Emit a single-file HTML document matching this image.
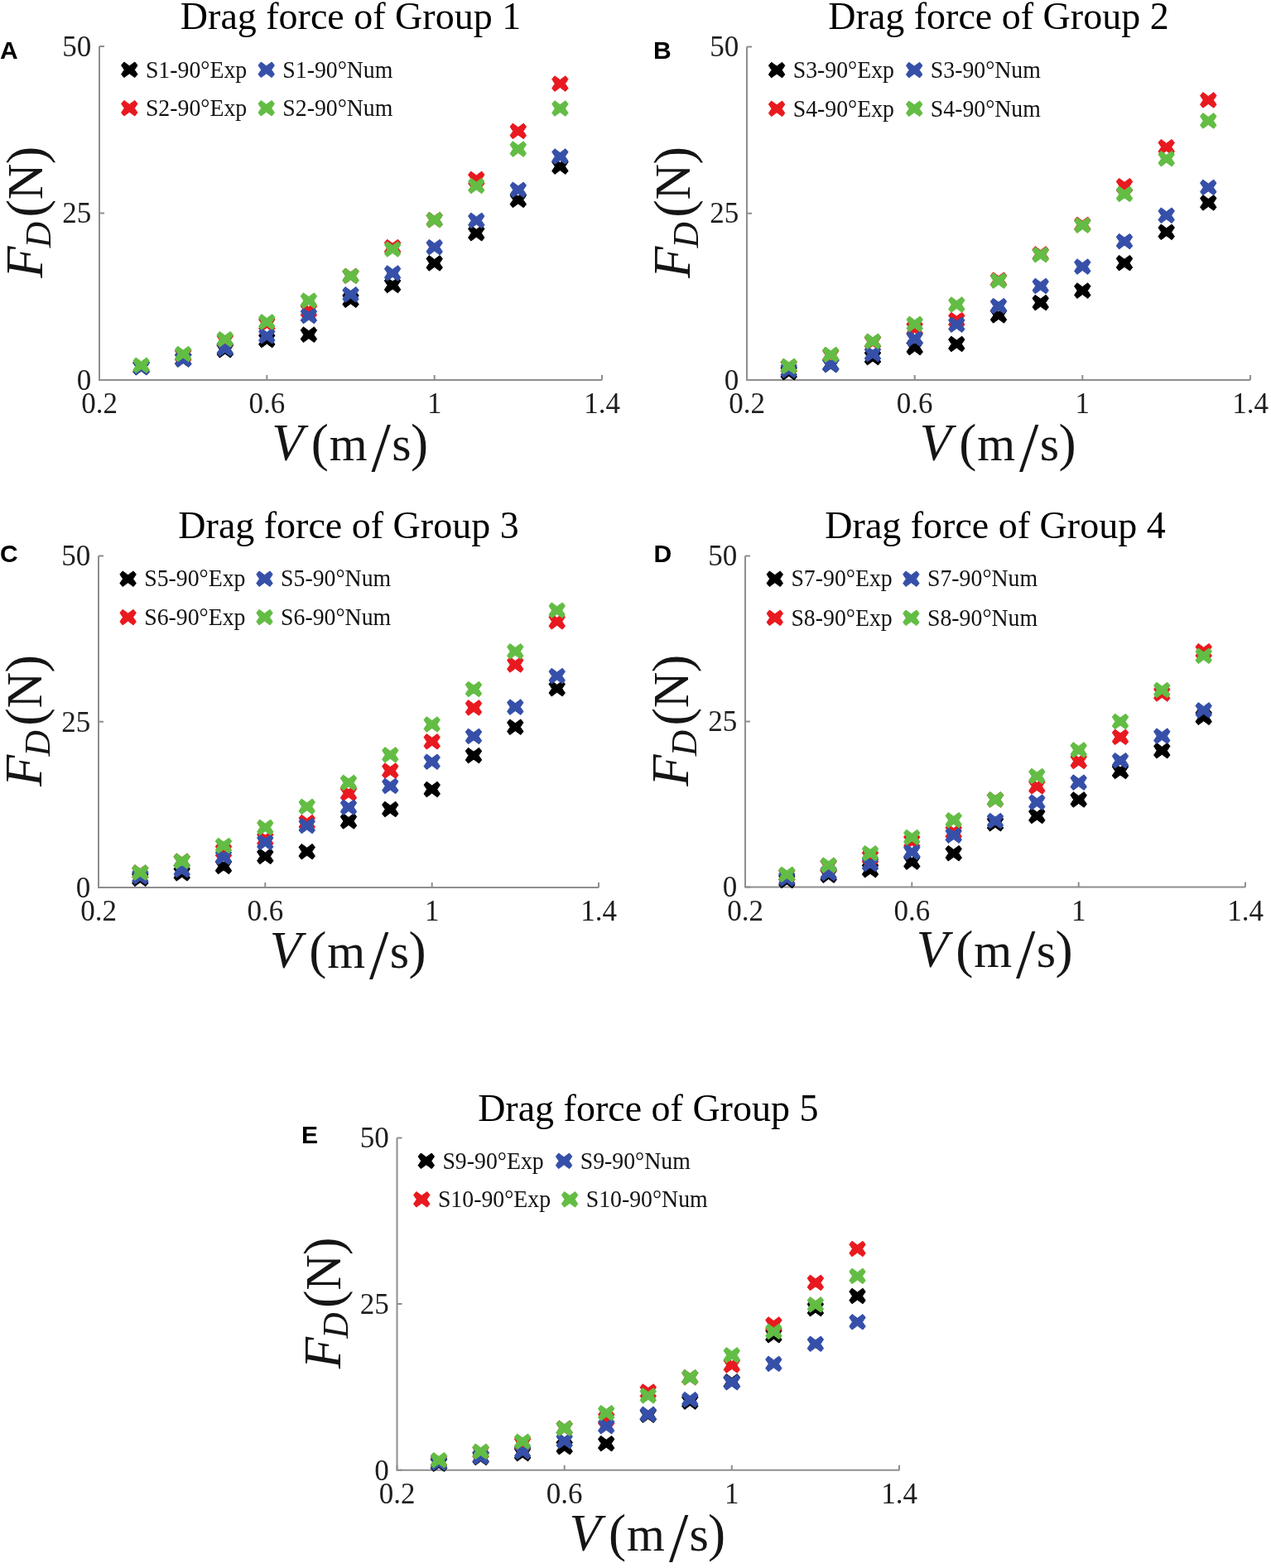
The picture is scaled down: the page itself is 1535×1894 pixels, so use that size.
<!DOCTYPE html>
<html><head><meta charset="utf-8"><title>Drag force</title>
<style>
html,body{margin:0;padding:0;background:#fff;}
svg{display:block;}
text{font-family:"Liberation Serif","Times New Roman",serif;fill:#1e1e1e;}
.lt{font-family:"Liberation Sans",Arial,sans-serif;font-weight:bold;font-size:30px;fill:#000;}
.ti{font-size:46px;text-anchor:middle;fill:#000;}
.tx{font-size:35px;text-anchor:middle;}
.ty{font-size:35px;text-anchor:end;}
.al{fill:#151515;}
.it{font-style:italic;}
.lg{font-size:27.8px;fill:#111;}
.ax{fill:none;stroke:#8e8e8e;stroke-width:2;}
.mk use{stroke-width:1;stroke-linejoin:round;}
</style></head>
<body>
<svg width="1535" height="1894" viewBox="0 0 1535 1894">
<defs><path id="m" d="M-9.7 -5.4L-6.5 -9.3L0 -4.5L6.5 -9.3L9.7 -5.4L6.1 0L9.7 5.4L6.5 9.3L0 4.5L-6.5 9.3L-9.7 5.4L-6.1 0Z"/></defs>
<rect width="1535" height="1894" fill="#fff"/>
<text x="0" y="70.8" class="lt">A</text>
<text x="423.5" y="34.6" class="ti">Drag force of Group 1</text>
<path d="M120 56V459H727" class="ax"/>
<path d="M120.0 459v-6M322.3 459v-6M524.7 459v-6M727.0 459v-6M120 459.0h6M120 257.5h6M120 56.0h6" class="ax"/>
<text x="120.0" y="499.3" class="tx">0.2</text>
<text x="322.3" y="499.3" class="tx">0.6</text>
<text x="524.7" y="499.3" class="tx">1</text>
<text x="727.0" y="499.3" class="tx">1.4</text>
<text x="110.3" y="470.7" class="ty">0</text>
<text x="110.3" y="269.2" class="ty">25</text>
<text x="110.3" y="67.7" class="ty">50</text>
<text class="al"><tspan x="328.3" y="555.7" font-size="62.6" class="it">V</tspan><tspan x="375.8" y="555.7" font-size="63.4">(</tspan><tspan x="397.8" y="555.7" font-size="59">m</tspan><tspan x="448.6" y="568.7" font-size="84">/</tspan><tspan x="473.3" y="555.7" font-size="60">s</tspan><tspan x="495.9" y="555.7" font-size="63.4">)</tspan></text>
<text transform="translate(51.3 257.5) rotate(-90)" class="al"><tspan x="-78.2" y="0" font-size="62.5" class="it">F</tspan><tspan x="-41.7" y="9.3" font-size="43.4" class="it">D</tspan><tspan x="-4.9" y="1.6" font-size="64.9">(</tspan><tspan x="16.3" y="0" font-size="60.5">N</tspan><tspan x="59.2" y="1.6" font-size="64.9">)</tspan></text>
<g class="mk"><use href="#m" x="156.3" y="84.3" fill="#000000" stroke="#000000"/></g>
<text transform="translate(175.9 93.5) scale(1 1.08)" class="lg">S1-90°Exp</text>
<g class="mk"><use href="#m" x="321.7" y="84.3" fill="#3650a9" stroke="#3650a9"/></g>
<text transform="translate(341.3 93.5) scale(1 1.08)" class="lg">S1-90°Num</text>
<g class="mk"><use href="#m" x="156.3" y="130.7" fill="#e8191f" stroke="#e8191f"/></g>
<text transform="translate(175.9 139.9) scale(1 1.08)" class="lg">S2-90°Exp</text>
<g class="mk"><use href="#m" x="321.7" y="130.7" fill="#63bd44" stroke="#63bd44"/></g>
<text transform="translate(341.3 139.9) scale(1 1.08)" class="lg">S2-90°Num</text>
<g class="mk">
<use href="#m" x="170.6" y="443.7" fill="#000000" stroke="#000000"/>
<use href="#m" x="221.2" y="434.0" fill="#000000" stroke="#000000"/>
<use href="#m" x="271.8" y="422.7" fill="#000000" stroke="#000000"/>
<use href="#m" x="322.3" y="410.6" fill="#000000" stroke="#000000"/>
<use href="#m" x="372.9" y="404.2" fill="#000000" stroke="#000000"/>
<use href="#m" x="423.5" y="362.3" fill="#000000" stroke="#000000"/>
<use href="#m" x="474.1" y="344.5" fill="#000000" stroke="#000000"/>
<use href="#m" x="524.7" y="317.9" fill="#000000" stroke="#000000"/>
<use href="#m" x="575.3" y="281.7" fill="#000000" stroke="#000000"/>
<use href="#m" x="625.8" y="241.4" fill="#000000" stroke="#000000"/>
<use href="#m" x="676.4" y="201.1" fill="#000000" stroke="#000000"/>
<use href="#m" x="170.6" y="442.9" fill="#e8191f" stroke="#e8191f"/>
<use href="#m" x="221.2" y="429.2" fill="#e8191f" stroke="#e8191f"/>
<use href="#m" x="271.8" y="411.4" fill="#e8191f" stroke="#e8191f"/>
<use href="#m" x="322.3" y="391.3" fill="#e8191f" stroke="#e8191f"/>
<use href="#m" x="372.9" y="375.2" fill="#e8191f" stroke="#e8191f"/>
<use href="#m" x="423.5" y="333.3" fill="#e8191f" stroke="#e8191f"/>
<use href="#m" x="474.1" y="298.6" fill="#e8191f" stroke="#e8191f"/>
<use href="#m" x="524.7" y="265.6" fill="#e8191f" stroke="#e8191f"/>
<use href="#m" x="575.3" y="216.4" fill="#e8191f" stroke="#e8191f"/>
<use href="#m" x="625.8" y="158.4" fill="#e8191f" stroke="#e8191f"/>
<use href="#m" x="676.4" y="101.1" fill="#e8191f" stroke="#e8191f"/>
<use href="#m" x="170.6" y="443.7" fill="#3650a9" stroke="#3650a9"/>
<use href="#m" x="221.2" y="434.0" fill="#3650a9" stroke="#3650a9"/>
<use href="#m" x="271.8" y="421.1" fill="#3650a9" stroke="#3650a9"/>
<use href="#m" x="322.3" y="405.8" fill="#3650a9" stroke="#3650a9"/>
<use href="#m" x="372.9" y="381.6" fill="#3650a9" stroke="#3650a9"/>
<use href="#m" x="423.5" y="355.8" fill="#3650a9" stroke="#3650a9"/>
<use href="#m" x="474.1" y="330.0" fill="#3650a9" stroke="#3650a9"/>
<use href="#m" x="524.7" y="298.6" fill="#3650a9" stroke="#3650a9"/>
<use href="#m" x="575.3" y="266.4" fill="#3650a9" stroke="#3650a9"/>
<use href="#m" x="625.8" y="229.3" fill="#3650a9" stroke="#3650a9"/>
<use href="#m" x="676.4" y="189.0" fill="#3650a9" stroke="#3650a9"/>
<use href="#m" x="170.6" y="441.3" fill="#63bd44" stroke="#63bd44"/>
<use href="#m" x="221.2" y="427.6" fill="#63bd44" stroke="#63bd44"/>
<use href="#m" x="271.8" y="409.8" fill="#63bd44" stroke="#63bd44"/>
<use href="#m" x="322.3" y="388.9" fill="#63bd44" stroke="#63bd44"/>
<use href="#m" x="372.9" y="363.1" fill="#63bd44" stroke="#63bd44"/>
<use href="#m" x="423.5" y="333.3" fill="#63bd44" stroke="#63bd44"/>
<use href="#m" x="474.1" y="301.0" fill="#63bd44" stroke="#63bd44"/>
<use href="#m" x="524.7" y="265.6" fill="#63bd44" stroke="#63bd44"/>
<use href="#m" x="575.3" y="224.5" fill="#63bd44" stroke="#63bd44"/>
<use href="#m" x="625.8" y="180.1" fill="#63bd44" stroke="#63bd44"/>
<use href="#m" x="676.4" y="131.0" fill="#63bd44" stroke="#63bd44"/>
</g>
<text x="789" y="70.8" class="lt">B</text>
<text x="1206.0" y="35" class="ti">Drag force of Group 2</text>
<path d="M902 56.5V459H1510" class="ax"/>
<path d="M902.0 459v-6M1104.7 459v-6M1307.3 459v-6M1510.0 459v-6M902 459.0h6M902 257.8h6M902 56.5h6" class="ax"/>
<text x="902.0" y="499.3" class="tx">0.2</text>
<text x="1104.7" y="499.3" class="tx">0.6</text>
<text x="1307.3" y="499.3" class="tx">1</text>
<text x="1510.0" y="499.3" class="tx">1.4</text>
<text x="892.3" y="470.7" class="ty">0</text>
<text x="892.3" y="269.4" class="ty">25</text>
<text x="892.3" y="68.2" class="ty">50</text>
<text class="al"><tspan x="1110.8" y="555.7" font-size="62.6" class="it">V</tspan><tspan x="1158.3" y="555.7" font-size="63.4">(</tspan><tspan x="1180.3" y="555.7" font-size="59">m</tspan><tspan x="1231.1" y="568.7" font-size="84">/</tspan><tspan x="1255.8" y="555.7" font-size="60">s</tspan><tspan x="1278.4" y="555.7" font-size="63.4">)</tspan></text>
<text transform="translate(833.3 257.8) rotate(-90)" class="al"><tspan x="-78.2" y="0" font-size="62.5" class="it">F</tspan><tspan x="-41.7" y="9.3" font-size="43.4" class="it">D</tspan><tspan x="-4.9" y="1.6" font-size="64.9">(</tspan><tspan x="16.3" y="0" font-size="60.5">N</tspan><tspan x="59.2" y="1.6" font-size="64.9">)</tspan></text>
<g class="mk"><use href="#m" x="938.1" y="84.6" fill="#000000" stroke="#000000"/></g>
<text transform="translate(957.7 93.8) scale(1 1.08)" class="lg">S3-90°Exp</text>
<g class="mk"><use href="#m" x="1104.2" y="84.6" fill="#3650a9" stroke="#3650a9"/></g>
<text transform="translate(1123.8 93.8) scale(1 1.08)" class="lg">S3-90°Num</text>
<g class="mk"><use href="#m" x="938.1" y="131.3" fill="#e8191f" stroke="#e8191f"/></g>
<text transform="translate(957.7 140.5) scale(1 1.08)" class="lg">S4-90°Exp</text>
<g class="mk"><use href="#m" x="1104.2" y="131.3" fill="#63bd44" stroke="#63bd44"/></g>
<text transform="translate(1123.8 140.5) scale(1 1.08)" class="lg">S4-90°Num</text>
<g class="mk">
<use href="#m" x="952.7" y="449.7" fill="#000000" stroke="#000000"/>
<use href="#m" x="1003.3" y="440.5" fill="#000000" stroke="#000000"/>
<use href="#m" x="1054.0" y="431.6" fill="#000000" stroke="#000000"/>
<use href="#m" x="1104.7" y="419.6" fill="#000000" stroke="#000000"/>
<use href="#m" x="1155.3" y="415.5" fill="#000000" stroke="#000000"/>
<use href="#m" x="1206.0" y="380.9" fill="#000000" stroke="#000000"/>
<use href="#m" x="1256.7" y="365.6" fill="#000000" stroke="#000000"/>
<use href="#m" x="1307.3" y="351.1" fill="#000000" stroke="#000000"/>
<use href="#m" x="1358.0" y="317.7" fill="#000000" stroke="#000000"/>
<use href="#m" x="1408.7" y="280.3" fill="#000000" stroke="#000000"/>
<use href="#m" x="1459.3" y="244.9" fill="#000000" stroke="#000000"/>
<use href="#m" x="952.7" y="442.9" fill="#e8191f" stroke="#e8191f"/>
<use href="#m" x="1003.3" y="429.2" fill="#e8191f" stroke="#e8191f"/>
<use href="#m" x="1054.0" y="413.1" fill="#e8191f" stroke="#e8191f"/>
<use href="#m" x="1104.7" y="397.0" fill="#e8191f" stroke="#e8191f"/>
<use href="#m" x="1155.3" y="386.6" fill="#e8191f" stroke="#e8191f"/>
<use href="#m" x="1206.0" y="338.2" fill="#e8191f" stroke="#e8191f"/>
<use href="#m" x="1256.7" y="306.9" fill="#e8191f" stroke="#e8191f"/>
<use href="#m" x="1307.3" y="271.4" fill="#e8191f" stroke="#e8191f"/>
<use href="#m" x="1358.0" y="224.7" fill="#e8191f" stroke="#e8191f"/>
<use href="#m" x="1408.7" y="177.7" fill="#e8191f" stroke="#e8191f"/>
<use href="#m" x="1459.3" y="120.9" fill="#e8191f" stroke="#e8191f"/>
<use href="#m" x="952.7" y="447.3" fill="#3650a9" stroke="#3650a9"/>
<use href="#m" x="1003.3" y="440.7" fill="#3650a9" stroke="#3650a9"/>
<use href="#m" x="1054.0" y="427.6" fill="#3650a9" stroke="#3650a9"/>
<use href="#m" x="1104.7" y="409.1" fill="#3650a9" stroke="#3650a9"/>
<use href="#m" x="1155.3" y="392.2" fill="#3650a9" stroke="#3650a9"/>
<use href="#m" x="1206.0" y="369.6" fill="#3650a9" stroke="#3650a9"/>
<use href="#m" x="1256.7" y="345.5" fill="#3650a9" stroke="#3650a9"/>
<use href="#m" x="1307.3" y="322.1" fill="#3650a9" stroke="#3650a9"/>
<use href="#m" x="1358.0" y="291.6" fill="#3650a9" stroke="#3650a9"/>
<use href="#m" x="1408.7" y="260.2" fill="#3650a9" stroke="#3650a9"/>
<use href="#m" x="1459.3" y="226.4" fill="#3650a9" stroke="#3650a9"/>
<use href="#m" x="952.7" y="442.4" fill="#63bd44" stroke="#63bd44"/>
<use href="#m" x="1003.3" y="428.4" fill="#63bd44" stroke="#63bd44"/>
<use href="#m" x="1054.0" y="412.3" fill="#63bd44" stroke="#63bd44"/>
<use href="#m" x="1104.7" y="391.4" fill="#63bd44" stroke="#63bd44"/>
<use href="#m" x="1155.3" y="368.0" fill="#63bd44" stroke="#63bd44"/>
<use href="#m" x="1206.0" y="339.1" fill="#63bd44" stroke="#63bd44"/>
<use href="#m" x="1256.7" y="307.7" fill="#63bd44" stroke="#63bd44"/>
<use href="#m" x="1307.3" y="272.2" fill="#63bd44" stroke="#63bd44"/>
<use href="#m" x="1358.0" y="234.4" fill="#63bd44" stroke="#63bd44"/>
<use href="#m" x="1408.7" y="191.7" fill="#63bd44" stroke="#63bd44"/>
<use href="#m" x="1459.3" y="145.9" fill="#63bd44" stroke="#63bd44"/>
</g>
<text x="0" y="679.3" class="lt">C</text>
<text x="421.0" y="650.2" class="ti">Drag force of Group 3</text>
<path d="M119 671.5V1072H723" class="ax"/>
<path d="M119.0 1072v-6M320.3 1072v-6M521.7 1072v-6M723.0 1072v-6M119 1072.0h6M119 871.8h6M119 671.5h6" class="ax"/>
<text x="119.0" y="1112.3" class="tx">0.2</text>
<text x="320.3" y="1112.3" class="tx">0.6</text>
<text x="521.7" y="1112.3" class="tx">1</text>
<text x="723.0" y="1112.3" class="tx">1.4</text>
<text x="109.3" y="1083.7" class="ty">0</text>
<text x="109.3" y="883.5" class="ty">25</text>
<text x="109.3" y="683.2" class="ty">50</text>
<text class="al"><tspan x="325.8" y="1168.7" font-size="62.6" class="it">V</tspan><tspan x="373.3" y="1168.7" font-size="63.4">(</tspan><tspan x="395.3" y="1168.7" font-size="59">m</tspan><tspan x="446.1" y="1181.7" font-size="84">/</tspan><tspan x="470.8" y="1168.7" font-size="60">s</tspan><tspan x="493.4" y="1168.7" font-size="63.4">)</tspan></text>
<text transform="translate(50.3 871.8) rotate(-90)" class="al"><tspan x="-78.2" y="0" font-size="62.5" class="it">F</tspan><tspan x="-41.7" y="9.3" font-size="43.4" class="it">D</tspan><tspan x="-4.9" y="1.6" font-size="64.9">(</tspan><tspan x="16.3" y="0" font-size="60.5">N</tspan><tspan x="59.2" y="1.6" font-size="64.9">)</tspan></text>
<g class="mk"><use href="#m" x="154.6" y="699.2" fill="#000000" stroke="#000000"/></g>
<text transform="translate(174.2 708.4) scale(1 1.08)" class="lg">S5-90°Exp</text>
<g class="mk"><use href="#m" x="319.5" y="699.2" fill="#3650a9" stroke="#3650a9"/></g>
<text transform="translate(339.1 708.4) scale(1 1.08)" class="lg">S5-90°Num</text>
<g class="mk"><use href="#m" x="154.6" y="745.6" fill="#e8191f" stroke="#e8191f"/></g>
<text transform="translate(174.2 754.8) scale(1 1.08)" class="lg">S6-90°Exp</text>
<g class="mk"><use href="#m" x="319.5" y="745.6" fill="#63bd44" stroke="#63bd44"/></g>
<text transform="translate(339.1 754.8) scale(1 1.08)" class="lg">S6-90°Num</text>
<g class="mk">
<use href="#m" x="169.3" y="1061.3" fill="#000000" stroke="#000000"/>
<use href="#m" x="219.7" y="1054.8" fill="#000000" stroke="#000000"/>
<use href="#m" x="270.0" y="1046.4" fill="#000000" stroke="#000000"/>
<use href="#m" x="320.3" y="1034.4" fill="#000000" stroke="#000000"/>
<use href="#m" x="370.7" y="1028.7" fill="#000000" stroke="#000000"/>
<use href="#m" x="421.0" y="991.9" fill="#000000" stroke="#000000"/>
<use href="#m" x="471.3" y="977.5" fill="#000000" stroke="#000000"/>
<use href="#m" x="521.7" y="953.5" fill="#000000" stroke="#000000"/>
<use href="#m" x="572.0" y="912.6" fill="#000000" stroke="#000000"/>
<use href="#m" x="622.3" y="878.2" fill="#000000" stroke="#000000"/>
<use href="#m" x="672.7" y="831.7" fill="#000000" stroke="#000000"/>
<use href="#m" x="169.3" y="1054.0" fill="#e8191f" stroke="#e8191f"/>
<use href="#m" x="219.7" y="1040.2" fill="#e8191f" stroke="#e8191f"/>
<use href="#m" x="270.0" y="1027.9" fill="#e8191f" stroke="#e8191f"/>
<use href="#m" x="320.3" y="1013.5" fill="#e8191f" stroke="#e8191f"/>
<use href="#m" x="370.7" y="993.5" fill="#e8191f" stroke="#e8191f"/>
<use href="#m" x="421.0" y="958.3" fill="#e8191f" stroke="#e8191f"/>
<use href="#m" x="471.3" y="931.0" fill="#e8191f" stroke="#e8191f"/>
<use href="#m" x="521.7" y="895.8" fill="#e8191f" stroke="#e8191f"/>
<use href="#m" x="572.0" y="854.9" fill="#e8191f" stroke="#e8191f"/>
<use href="#m" x="622.3" y="802.9" fill="#e8191f" stroke="#e8191f"/>
<use href="#m" x="672.7" y="750.8" fill="#e8191f" stroke="#e8191f"/>
<use href="#m" x="169.3" y="1058.9" fill="#3650a9" stroke="#3650a9"/>
<use href="#m" x="219.7" y="1050.7" fill="#3650a9" stroke="#3650a9"/>
<use href="#m" x="270.0" y="1035.2" fill="#3650a9" stroke="#3650a9"/>
<use href="#m" x="320.3" y="1017.5" fill="#3650a9" stroke="#3650a9"/>
<use href="#m" x="370.7" y="997.5" fill="#3650a9" stroke="#3650a9"/>
<use href="#m" x="421.0" y="975.1" fill="#3650a9" stroke="#3650a9"/>
<use href="#m" x="471.3" y="949.4" fill="#3650a9" stroke="#3650a9"/>
<use href="#m" x="521.7" y="920.2" fill="#3650a9" stroke="#3650a9"/>
<use href="#m" x="572.0" y="889.4" fill="#3650a9" stroke="#3650a9"/>
<use href="#m" x="622.3" y="854.1" fill="#3650a9" stroke="#3650a9"/>
<use href="#m" x="672.7" y="816.5" fill="#3650a9" stroke="#3650a9"/>
<use href="#m" x="169.3" y="1054.0" fill="#63bd44" stroke="#63bd44"/>
<use href="#m" x="219.7" y="1040.2" fill="#63bd44" stroke="#63bd44"/>
<use href="#m" x="270.0" y="1021.5" fill="#63bd44" stroke="#63bd44"/>
<use href="#m" x="320.3" y="999.4" fill="#63bd44" stroke="#63bd44"/>
<use href="#m" x="370.7" y="974.3" fill="#63bd44" stroke="#63bd44"/>
<use href="#m" x="421.0" y="945.4" fill="#63bd44" stroke="#63bd44"/>
<use href="#m" x="471.3" y="911.8" fill="#63bd44" stroke="#63bd44"/>
<use href="#m" x="521.7" y="875.0" fill="#63bd44" stroke="#63bd44"/>
<use href="#m" x="572.0" y="832.5" fill="#63bd44" stroke="#63bd44"/>
<use href="#m" x="622.3" y="786.8" fill="#63bd44" stroke="#63bd44"/>
<use href="#m" x="672.7" y="737.2" fill="#63bd44" stroke="#63bd44"/>
</g>
<text x="789.5" y="679.3" class="lt">D</text>
<text x="1202.0" y="650.2" class="ti">Drag force of Group 4</text>
<path d="M900 671.5V1071.5H1504" class="ax"/>
<path d="M900.0 1071.5v-6M1101.3 1071.5v-6M1302.7 1071.5v-6M1504.0 1071.5v-6M900 1071.5h6M900 871.5h6M900 671.5h6" class="ax"/>
<text x="900.0" y="1111.8" class="tx">0.2</text>
<text x="1101.3" y="1111.8" class="tx">0.6</text>
<text x="1302.7" y="1111.8" class="tx">1</text>
<text x="1504.0" y="1111.8" class="tx">1.4</text>
<text x="890.3" y="1083.2" class="ty">0</text>
<text x="890.3" y="883.2" class="ty">25</text>
<text x="890.3" y="683.2" class="ty">50</text>
<text class="al"><tspan x="1106.8" y="1168.2" font-size="62.6" class="it">V</tspan><tspan x="1154.3" y="1168.2" font-size="63.4">(</tspan><tspan x="1176.3" y="1168.2" font-size="59">m</tspan><tspan x="1227.1" y="1181.2" font-size="84">/</tspan><tspan x="1251.8" y="1168.2" font-size="60">s</tspan><tspan x="1274.4" y="1168.2" font-size="63.4">)</tspan></text>
<text transform="translate(831.3 871.5) rotate(-90)" class="al"><tspan x="-78.2" y="0" font-size="62.5" class="it">F</tspan><tspan x="-41.7" y="9.3" font-size="43.4" class="it">D</tspan><tspan x="-4.9" y="1.6" font-size="64.9">(</tspan><tspan x="16.3" y="0" font-size="60.5">N</tspan><tspan x="59.2" y="1.6" font-size="64.9">)</tspan></text>
<g class="mk"><use href="#m" x="935.8" y="699.2" fill="#000000" stroke="#000000"/></g>
<text transform="translate(955.4 708.4) scale(1 1.08)" class="lg">S7-90°Exp</text>
<g class="mk"><use href="#m" x="1100.4" y="699.2" fill="#3650a9" stroke="#3650a9"/></g>
<text transform="translate(1120.0 708.4) scale(1 1.08)" class="lg">S7-90°Num</text>
<g class="mk"><use href="#m" x="935.8" y="746.3" fill="#e8191f" stroke="#e8191f"/></g>
<text transform="translate(955.4 755.5) scale(1 1.08)" class="lg">S8-90°Exp</text>
<g class="mk"><use href="#m" x="1100.4" y="746.3" fill="#63bd44" stroke="#63bd44"/></g>
<text transform="translate(1120.0 755.5) scale(1 1.08)" class="lg">S8-90°Num</text>
<g class="mk">
<use href="#m" x="950.3" y="1063.5" fill="#000000" stroke="#000000"/>
<use href="#m" x="1000.7" y="1057.1" fill="#000000" stroke="#000000"/>
<use href="#m" x="1051.0" y="1050.7" fill="#000000" stroke="#000000"/>
<use href="#m" x="1101.3" y="1041.1" fill="#000000" stroke="#000000"/>
<use href="#m" x="1151.7" y="1030.7" fill="#000000" stroke="#000000"/>
<use href="#m" x="1202.0" y="994.7" fill="#000000" stroke="#000000"/>
<use href="#m" x="1252.3" y="985.5" fill="#000000" stroke="#000000"/>
<use href="#m" x="1302.7" y="965.9" fill="#000000" stroke="#000000"/>
<use href="#m" x="1353.0" y="931.5" fill="#000000" stroke="#000000"/>
<use href="#m" x="1403.3" y="906.7" fill="#000000" stroke="#000000"/>
<use href="#m" x="1453.7" y="866.3" fill="#000000" stroke="#000000"/>
<use href="#m" x="950.3" y="1057.1" fill="#e8191f" stroke="#e8191f"/>
<use href="#m" x="1000.7" y="1045.9" fill="#e8191f" stroke="#e8191f"/>
<use href="#m" x="1051.0" y="1035.5" fill="#e8191f" stroke="#e8191f"/>
<use href="#m" x="1101.3" y="1016.3" fill="#e8191f" stroke="#e8191f"/>
<use href="#m" x="1151.7" y="1005.1" fill="#e8191f" stroke="#e8191f"/>
<use href="#m" x="1202.0" y="965.9" fill="#e8191f" stroke="#e8191f"/>
<use href="#m" x="1252.3" y="949.9" fill="#e8191f" stroke="#e8191f"/>
<use href="#m" x="1302.7" y="919.5" fill="#e8191f" stroke="#e8191f"/>
<use href="#m" x="1353.0" y="890.3" fill="#e8191f" stroke="#e8191f"/>
<use href="#m" x="1403.3" y="837.9" fill="#e8191f" stroke="#e8191f"/>
<use href="#m" x="1453.7" y="786.7" fill="#e8191f" stroke="#e8191f"/>
<use href="#m" x="950.3" y="1061.3" fill="#3650a9" stroke="#3650a9"/>
<use href="#m" x="1000.7" y="1054.7" fill="#3650a9" stroke="#3650a9"/>
<use href="#m" x="1051.0" y="1043.5" fill="#3650a9" stroke="#3650a9"/>
<use href="#m" x="1101.3" y="1029.1" fill="#3650a9" stroke="#3650a9"/>
<use href="#m" x="1151.7" y="1009.1" fill="#3650a9" stroke="#3650a9"/>
<use href="#m" x="1202.0" y="991.5" fill="#3650a9" stroke="#3650a9"/>
<use href="#m" x="1252.3" y="969.1" fill="#3650a9" stroke="#3650a9"/>
<use href="#m" x="1302.7" y="945.1" fill="#3650a9" stroke="#3650a9"/>
<use href="#m" x="1353.0" y="918.7" fill="#3650a9" stroke="#3650a9"/>
<use href="#m" x="1403.3" y="889.1" fill="#3650a9" stroke="#3650a9"/>
<use href="#m" x="1453.7" y="857.9" fill="#3650a9" stroke="#3650a9"/>
<use href="#m" x="950.3" y="1056.3" fill="#63bd44" stroke="#63bd44"/>
<use href="#m" x="1000.7" y="1045.1" fill="#63bd44" stroke="#63bd44"/>
<use href="#m" x="1051.0" y="1030.7" fill="#63bd44" stroke="#63bd44"/>
<use href="#m" x="1101.3" y="1011.5" fill="#63bd44" stroke="#63bd44"/>
<use href="#m" x="1151.7" y="990.7" fill="#63bd44" stroke="#63bd44"/>
<use href="#m" x="1202.0" y="965.9" fill="#63bd44" stroke="#63bd44"/>
<use href="#m" x="1252.3" y="937.5" fill="#63bd44" stroke="#63bd44"/>
<use href="#m" x="1302.7" y="905.9" fill="#63bd44" stroke="#63bd44"/>
<use href="#m" x="1353.0" y="871.5" fill="#63bd44" stroke="#63bd44"/>
<use href="#m" x="1403.3" y="833.5" fill="#63bd44" stroke="#63bd44"/>
<use href="#m" x="1453.7" y="792.3" fill="#63bd44" stroke="#63bd44"/>
</g>
<text x="364" y="1381.3" class="lt">E</text>
<text x="782.8" y="1353.6" class="ti">Drag force of Group 5</text>
<path d="M479.5 1374.4V1775.8H1086" class="ax"/>
<path d="M479.5 1775.8v-6M681.7 1775.8v-6M883.8 1775.8v-6M1086.0 1775.8v-6M479.5 1775.8h6M479.5 1575.1h6M479.5 1374.4h6" class="ax"/>
<text x="479.5" y="1816.1" class="tx">0.2</text>
<text x="681.7" y="1816.1" class="tx">0.6</text>
<text x="883.8" y="1816.1" class="tx">1</text>
<text x="1086.0" y="1816.1" class="tx">1.4</text>
<text x="469.8" y="1787.5" class="ty">0</text>
<text x="469.8" y="1586.8" class="ty">25</text>
<text x="469.8" y="1386.1" class="ty">50</text>
<text class="al"><tspan x="687.5" y="1872.5" font-size="62.6" class="it">V</tspan><tspan x="735.0" y="1872.5" font-size="63.4">(</tspan><tspan x="757.0" y="1872.5" font-size="59">m</tspan><tspan x="807.9" y="1885.5" font-size="84">/</tspan><tspan x="832.5" y="1872.5" font-size="60">s</tspan><tspan x="855.1" y="1872.5" font-size="63.4">)</tspan></text>
<text transform="translate(410.8 1575.1) rotate(-90)" class="al"><tspan x="-78.2" y="0" font-size="62.5" class="it">F</tspan><tspan x="-41.7" y="9.3" font-size="43.4" class="it">D</tspan><tspan x="-4.9" y="1.6" font-size="64.9">(</tspan><tspan x="16.3" y="0" font-size="60.5">N</tspan><tspan x="59.2" y="1.6" font-size="64.9">)</tspan></text>
<g class="mk"><use href="#m" x="514.8" y="1402.3" fill="#000000" stroke="#000000"/></g>
<text transform="translate(534.4 1411.5) scale(1 1.08)" class="lg">S9-90°Exp</text>
<g class="mk"><use href="#m" x="681.1" y="1402.3" fill="#3650a9" stroke="#3650a9"/></g>
<text transform="translate(700.7 1411.5) scale(1 1.08)" class="lg">S9-90°Num</text>
<g class="mk"><use href="#m" x="509.3" y="1448.8" fill="#e8191f" stroke="#e8191f"/></g>
<text transform="translate(528.9 1458.0) scale(1 1.08)" class="lg">S10-90°Exp</text>
<g class="mk"><use href="#m" x="688.1" y="1448.8" fill="#63bd44" stroke="#63bd44"/></g>
<text transform="translate(707.7 1458.0) scale(1 1.08)" class="lg">S10-90°Num</text>
<g class="mk">
<use href="#m" x="530.0" y="1768.2" fill="#000000" stroke="#000000"/>
<use href="#m" x="580.6" y="1760.5" fill="#000000" stroke="#000000"/>
<use href="#m" x="631.1" y="1755.7" fill="#000000" stroke="#000000"/>
<use href="#m" x="681.7" y="1747.7" fill="#000000" stroke="#000000"/>
<use href="#m" x="732.2" y="1743.7" fill="#000000" stroke="#000000"/>
<use href="#m" x="782.8" y="1709.2" fill="#000000" stroke="#000000"/>
<use href="#m" x="833.3" y="1693.1" fill="#000000" stroke="#000000"/>
<use href="#m" x="883.8" y="1669.0" fill="#000000" stroke="#000000"/>
<use href="#m" x="934.4" y="1612.8" fill="#000000" stroke="#000000"/>
<use href="#m" x="984.9" y="1580.7" fill="#000000" stroke="#000000"/>
<use href="#m" x="1035.5" y="1565.5" fill="#000000" stroke="#000000"/>
<use href="#m" x="530.0" y="1764.6" fill="#e8191f" stroke="#e8191f"/>
<use href="#m" x="580.6" y="1754.1" fill="#e8191f" stroke="#e8191f"/>
<use href="#m" x="631.1" y="1743.7" fill="#e8191f" stroke="#e8191f"/>
<use href="#m" x="681.7" y="1725.2" fill="#e8191f" stroke="#e8191f"/>
<use href="#m" x="732.2" y="1714.0" fill="#e8191f" stroke="#e8191f"/>
<use href="#m" x="782.8" y="1681.1" fill="#e8191f" stroke="#e8191f"/>
<use href="#m" x="833.3" y="1663.8" fill="#e8191f" stroke="#e8191f"/>
<use href="#m" x="883.8" y="1649.0" fill="#e8191f" stroke="#e8191f"/>
<use href="#m" x="934.4" y="1600.0" fill="#e8191f" stroke="#e8191f"/>
<use href="#m" x="984.9" y="1549.4" fill="#e8191f" stroke="#e8191f"/>
<use href="#m" x="1035.5" y="1508.5" fill="#e8191f" stroke="#e8191f"/>
<use href="#m" x="530.0" y="1767.0" fill="#3650a9" stroke="#3650a9"/>
<use href="#m" x="580.6" y="1759.7" fill="#3650a9" stroke="#3650a9"/>
<use href="#m" x="631.1" y="1753.3" fill="#3650a9" stroke="#3650a9"/>
<use href="#m" x="681.7" y="1740.5" fill="#3650a9" stroke="#3650a9"/>
<use href="#m" x="732.2" y="1722.8" fill="#3650a9" stroke="#3650a9"/>
<use href="#m" x="782.8" y="1708.4" fill="#3650a9" stroke="#3650a9"/>
<use href="#m" x="833.3" y="1690.7" fill="#3650a9" stroke="#3650a9"/>
<use href="#m" x="883.8" y="1669.8" fill="#3650a9" stroke="#3650a9"/>
<use href="#m" x="934.4" y="1647.4" fill="#3650a9" stroke="#3650a9"/>
<use href="#m" x="984.9" y="1623.3" fill="#3650a9" stroke="#3650a9"/>
<use href="#m" x="1035.5" y="1596.8" fill="#3650a9" stroke="#3650a9"/>
<use href="#m" x="530.0" y="1763.8" fill="#63bd44" stroke="#63bd44"/>
<use href="#m" x="580.6" y="1753.3" fill="#63bd44" stroke="#63bd44"/>
<use href="#m" x="631.1" y="1741.3" fill="#63bd44" stroke="#63bd44"/>
<use href="#m" x="681.7" y="1725.2" fill="#63bd44" stroke="#63bd44"/>
<use href="#m" x="732.2" y="1706.8" fill="#63bd44" stroke="#63bd44"/>
<use href="#m" x="782.8" y="1685.9" fill="#63bd44" stroke="#63bd44"/>
<use href="#m" x="833.3" y="1663.8" fill="#63bd44" stroke="#63bd44"/>
<use href="#m" x="883.8" y="1636.9" fill="#63bd44" stroke="#63bd44"/>
<use href="#m" x="934.4" y="1608.4" fill="#63bd44" stroke="#63bd44"/>
<use href="#m" x="984.9" y="1575.9" fill="#63bd44" stroke="#63bd44"/>
<use href="#m" x="1035.5" y="1541.4" fill="#63bd44" stroke="#63bd44"/>
</g>
</svg>
</body></html>
